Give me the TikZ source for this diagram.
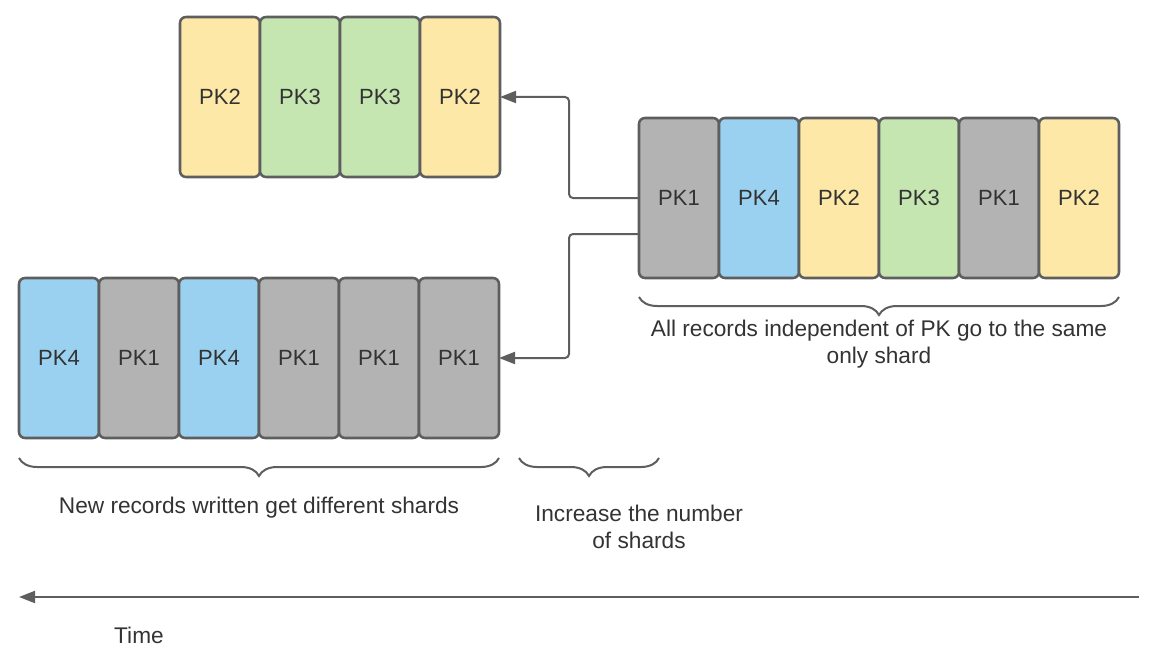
\documentclass[tikz,border=0pt]{standalone}
\usepackage{fontspec}
\setmainfont{Liberation Sans}
\usetikzlibrary{positioning,arrows.meta,decorations.pathreplacing}

\definecolor{pkyellow}{HTML}{FDE8A7}
\definecolor{pkgreen}{HTML}{C6E6B1}
\definecolor{pkblue}{HTML}{9AD0F0}
\definecolor{pkgray}{HTML}{B3B3B3}
\definecolor{edgegray}{HTML}{5E5E5E}
\definecolor{inkgray}{HTML}{333333}

\begin{document}
\begin{tikzpicture}[x=0.75pt,y=-0.75pt,>={Triangle[length=12pt,width=9pt]},
    record/.style={rectangle,draw=edgegray,line width=1.9pt,rounded corners=4.5pt,
                   minimum width=60pt,minimum height=120pt,inner sep=0pt,outer sep=0pt,
                   text=inkgray,font=\fontsize{16.5}{19}\selectfont},
    pk1/.style={record,fill=pkgray},
    pk2/.style={record,fill=pkyellow},
    pk3/.style={record,fill=pkgreen},
    pk4/.style={record,fill=pkblue},
    link/.style={->,draw=edgegray,line width=1.5pt,rounded corners=3pt},
    brc/.style={decorate,decoration={brace,mirror,amplitude=13.5pt},
                draw=edgegray,line width=1.5pt},
    caption/.style={text=inkgray,font=\fontsize{17}{20.25}\selectfont,align=center}]
  \useasboundingbox (0,0) rectangle (1158,660);

  % one shard: everything in one row
  \node[pk1] (r1) at (679,198) {PK1};
  \node[pk4,right=0pt of r1] (r2) {PK4};
  \node[pk2,right=0pt of r2] (r3) {PK2};
  \node[pk3,right=0pt of r3] (r4) {PK3};
  \node[pk1,right=0pt of r4] (r5) {PK1};
  \node[pk2,right=0pt of r5] (r6) {PK2};

  % after resharding
  \node[pk2] (t1) at (220,97) {PK2};
  \node[pk3,right=0pt of t1] (t2) {PK3};
  \node[pk3,right=0pt of t2] (t3) {PK3};
  \node[pk2,right=0pt of t3] (t4) {PK2};

  \node[pk4] (b1) at (59,358) {PK4};
  \node[pk1,right=0pt of b1] (b2) {PK1};
  \node[pk4,right=0pt of b2] (b3) {PK4};
  \node[pk1,right=0pt of b3] (b4) {PK1};
  \node[pk1,right=0pt of b4] (b5) {PK1};
  \node[pk1,right=0pt of b5] (b6) {PK1};

  \coordinate (fork) at ([yshift=-27pt]r1.west);
  \draw[link] (r1.west) -- ++(-70,0) |- (t4.east);
  \draw[link] (fork) -- ++(-70,0) |- (b6.east);

  % braces and notes
  \draw[brc] ([yshift=-14.25pt]r1.south west) -- ([yshift=-14.25pt]r6.south east)
    node[caption,midway,below=13.5pt] (samenote)
      {All records independent of PK go to the same\\only shard};
  \draw[brc] ([yshift=-15pt]b1.south west) -- ([yshift=-15pt]b6.south east)
    node[caption,midway,below=25pt] (newnote) {New records written get different shards};
  \coordinate (gapl) at ([xshift=15pt,yshift=-15pt]b6.south east);
  \coordinate (gapr) at ([xshift=15pt]gapl -| r1.west);
  \draw[brc] (gapl) -- (gapr)
    node[caption,midway,below=31pt,xshift=37.5pt] (morenote) {Increase the number\\of shards};

  % time axis
  \coordinate (tstart) at (1139,597);
  \coordinate (tend) at (19,597);
  \draw[link] (tstart) -- (tend);
  \node[caption] (time) at (139,635) {Time};
\end{tikzpicture}
\end{document}
